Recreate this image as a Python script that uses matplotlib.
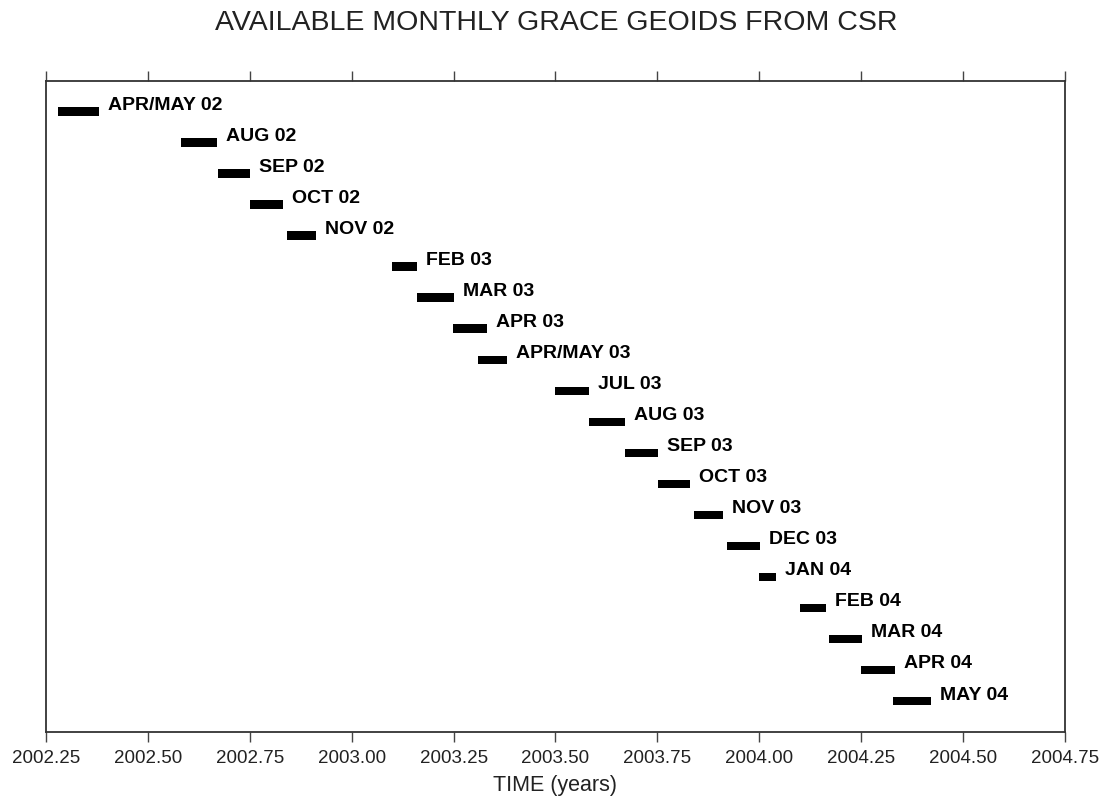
import numpy as np
import matplotlib
matplotlib.use("Agg")
import matplotlib.pyplot as plt

# Monthly solutions: label, start and end (decimal years)
labels = [
    "APR/MAY 02", "AUG 02", "SEP 02", "OCT 02", "NOV 02",
    "FEB 03", "MAR 03", "APR 03", "APR/MAY 03", "JUL 03",
    "AUG 03", "SEP 03", "OCT 03", "NOV 03", "DEC 03",
    "JAN 04", "FEB 04", "MAR 04", "APR 04", "MAY 04",
]
starts = [
    2002.279, 2002.580, 2002.671, 2002.750, 2002.841,
    2003.100, 2003.161, 2003.249, 2003.311, 2003.500,
    2003.581, 2003.670, 2003.751, 2003.840, 2003.920,
    2004.000, 2004.100, 2004.171, 2004.250, 2004.329,
]
ends = [
    2002.381, 2002.670, 2002.750, 2002.831, 2002.912,
    2003.161, 2003.251, 2003.333, 2003.381, 2003.581,
    2003.670, 2003.751, 2003.830, 2003.912, 2004.002,
    2004.042, 2004.163, 2004.251, 2004.333, 2004.421,
]
xticks = [2002.25, 2002.50, 2002.75, 2003.00, 2003.25, 2003.50,
          2003.75, 2004.00, 2004.25, 2004.50, 2004.75]

plt.rcParams["font.family"] = ["Liberation Sans", "DejaVu Sans"]

fig = plt.figure(figsize=(11.12, 8.05), dpi=100)
ax = fig.add_axes([0.0414, 0.0907, 0.9163, 0.809])

n = len(labels)
ypos = np.arange(n, 0, -1)  # first entry on top
starts = np.array(starts)
ends = np.array(ends)

ax.barh(ypos, ends - starts, left=starts, height=0.28, color="black")
for y, e, lab in zip(ypos, ends, labels):
    ax.annotate(lab, xy=(e, y), xytext=(6.5, 4.3), textcoords="offset points",
                fontsize=14, fontweight="bold", va="center", ha="left")

ax.set_xlim(2002.25, 2004.75)
ax.set_ylim(0, n + 1)
ax.set_xticks(xticks)
ax.set_xticklabels([f"{t:.2f}" for t in xticks], fontsize=13.5, color="#222222")
ax.set_yticks([])
ax.tick_params(axis="x", which="both", direction="out", length=7, width=1.0,
               color="#444444", top=True, bottom=True, pad=6)
for s in ax.spines.values():
    s.set_color("#333333")
    s.set_linewidth(1.3)

ax.set_xlabel("TIME (years)", fontsize=15.5, color="#222222", labelpad=6)
fig.text(0.5, 0.972, "AVAILABLE MONTHLY GRACE GEOIDS FROM CSR", ha="center",
         va="center", fontsize=20.5, color="#222222")

fig.savefig("out.png", dpi=100)
